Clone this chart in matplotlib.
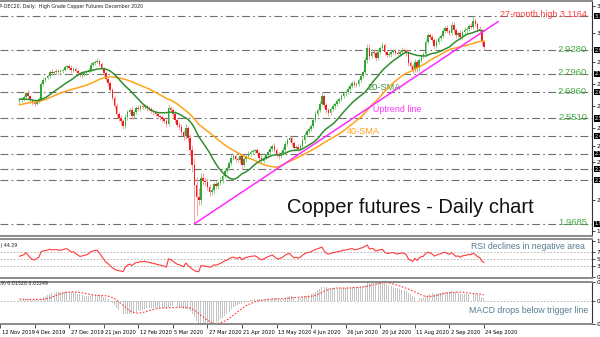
import numpy as np
import pandas as pd
import matplotlib
matplotlib.use("Agg")
import matplotlib.pyplot as plt
from matplotlib import transforms

# daily closes before the first visible bar (only warm up the indicators)
pre_close = [2.560, 2.575, 2.590, 2.570, 2.555, 2.580, 2.600, 2.590, 2.575, 2.585,
             2.600, 2.590, 2.605, 2.620, 2.610, 2.595, 2.580, 2.600, 2.615, 2.630,
             2.640, 2.660, 2.675, 2.690, 2.700, 2.685, 2.670, 2.680, 2.665, 2.650,
             2.640, 2.655, 2.660, 2.645, 2.630, 2.620, 2.635, 2.640, 2.650, 2.645]

# visible daily closes, mid Nov 2019 -> 24 Sep 2020
close = [2.652, 2.658, 2.669, 2.691, 2.674, 2.652, 2.636, 2.630, 2.647, 2.658,
         2.741, 2.763, 2.774, 2.785, 2.807, 2.801, 2.807, 2.813, 2.807, 2.813,
         2.818, 2.835, 2.840, 2.829, 2.818, 2.824, 2.813, 2.801, 2.790, 2.796,
         2.801, 2.807, 2.818, 2.846, 2.857, 2.862, 2.868, 2.851, 2.829, 2.801,
         2.768, 2.746, 2.708, 2.663, 2.619, 2.575, 2.553, 2.536, 2.509, 2.558,
         2.586, 2.597, 2.564, 2.586, 2.608, 2.603, 2.619, 2.614, 2.619, 2.608,
         2.603, 2.592, 2.586, 2.575, 2.564, 2.558, 2.547, 2.536, 2.520, 2.608,
         2.597, 2.575, 2.542, 2.514, 2.503, 2.476, 2.453, 2.498, 2.442, 2.376,
         2.293, 2.183, 2.116, 2.100, 2.221, 2.205, 2.199, 2.172, 2.144, 2.155,
         2.188, 2.177, 2.194, 2.210, 2.232, 2.260, 2.277, 2.304, 2.332, 2.343,
         2.326, 2.321, 2.343, 2.293, 2.326, 2.343, 2.354, 2.365, 2.371, 2.376,
         2.360, 2.332, 2.315, 2.332, 2.348, 2.365, 2.382, 2.398, 2.376, 2.354,
         2.343, 2.360, 2.376, 2.409, 2.431, 2.442, 2.415, 2.387, 2.393, 2.382,
         2.398, 2.431, 2.459, 2.481, 2.492, 2.509, 2.542, 2.575, 2.597, 2.630,
         2.674, 2.625, 2.597, 2.581, 2.603, 2.619, 2.630, 2.647, 2.658, 2.674,
         2.691, 2.697, 2.713, 2.730, 2.746, 2.735, 2.741, 2.763, 2.785, 2.807,
         2.873, 2.940, 2.895, 2.918, 2.912, 2.884, 2.918, 2.940, 2.956, 2.918,
         2.901, 2.906, 2.918, 2.923, 2.912, 2.906, 2.918, 2.929, 2.923, 2.912,
         2.857, 2.840, 2.818, 2.862, 2.829, 2.873, 2.895, 2.906, 2.973, 3.011,
         3.000, 2.984, 2.951, 2.973, 2.995, 3.006, 3.034, 3.050, 3.034, 3.022,
         3.067, 3.039, 3.011, 3.022, 3.000, 3.028, 3.039, 3.045, 3.061, 3.056,
         3.089, 3.072, 3.045, 3.034, 2.973, 2.945]

# shadow lengths above / below the candle body
wick_up = [.008, .010, .012, .006, .014, .008, .006, .010, .008, .012,
           .010, .014, .008, .012, .010, .016, .008, .010, .012, .008,
           .010, .012, .008, .010, .014, .008, .012, .010, .006, .010,
           .008, .010, .012, .014, .010, .012, .016, .010, .012, .008,
           .010, .012, .014, .010, .012, .016, .010, .014, .012, .018,
           .012, .010, .016, .012, .010, .014, .008, .012, .010, .008,
           .010, .012, .008, .010, .012, .008, .010, .012, .014, .016,
           .012, .010, .014, .012, .016, .014, .012, .020, .018, .022,
           .030, .040, .045, .050, .030, .028, .020, .022, .016, .018,
           .014, .018, .012, .016, .012, .014, .010, .012, .014, .012,
           .016, .010, .014, .012, .010, .012, .014, .010, .012, .008,
           .010, .012, .014, .010, .012, .010, .014, .012, .016, .010,
           .012, .010, .014, .016, .012, .018, .010, .012, .010, .014,
           .010, .012, .014, .010, .012, .010, .012, .014, .010, .016,
           .022, .014, .012, .010, .012, .014, .010, .012, .010, .014,
           .012, .010, .014, .012, .010, .016, .012, .010, .014, .012,
           .016, .024, .020, .014, .016, .012, .014, .010, .016, .012,
           .010, .012, .014, .010, .012, .016, .010, .014, .012, .010,
           .014, .012, .010, .016, .012, .014, .010, .012, .018, .014,
           .012, .016, .010, .014, .012, .010, .014, .012, .016, .010,
           .018, .014, .012, .010, .016, .012, .014, .010, .012, .014,
           .027, .016, .012, .014, .010, .008]
wick_dn = [.010, .008, .012, .008, .010, .014, .010, .012, .008, .010,
           .008, .010, .012, .008, .010, .012, .008, .010, .014, .010,
           .012, .008, .010, .012, .014, .010, .008, .012, .010, .014,
           .010, .012, .008, .010, .012, .010, .008, .010, .012, .014,
           .012, .014, .016, .012, .018, .014, .016, .020, .018, .012,
           .014, .012, .016, .012, .010, .014, .012, .010, .012, .014,
           .010, .012, .014, .010, .012, .014, .016, .012, .017, .014,
           .012, .014, .016, .012, .018, .016, .020, .018, .024, .028,
           .040, .2145, .099, .028, .030, .020, .024, .018, .022, .016,
           .018, .014, .016, .012, .014, .010, .012, .014, .010, .012,
           .014, .012, .016, .020, .012, .014, .010, .012, .010, .014,
           .012, .014, .016, .012, .010, .014, .012, .010, .012, .014,
           .016, .012, .010, .014, .012, .010, .016, .014, .012, .010,
           .012, .010, .014, .012, .010, .012, .014, .010, .012, .010,
           .012, .016, .014, .018, .012, .010, .014, .012, .010, .012,
           .010, .014, .012, .010, .014, .012, .010, .014, .012, .010,
           .012, .014, .020, .012, .016, .018, .012, .010, .014, .016,
           .012, .010, .014, .012, .010, .014, .012, .010, .012, .014,
           .016, .014, .018, .012, .020, .014, .012, .010, .014, .012,
           .010, .014, .016, .012, .010, .014, .012, .010, .014, .012,
           .010, .014, .016, .012, .014, .010, .012, .014, .010, .012,
           .014, .012, .016, .012, .018, .016]

levels = [3.1164, 2.9280, 2.7960, 2.6960, 2.5510, 2.4530, 2.3540, 2.2710, 2.2100, 1.9685]
labelled_levels = [2.9280, 2.7960, 2.6960, 2.5510, 1.9685]
high_level = 3.1164

date_bars = [-9, 7, 23, 39, 55, 71, 87, 103, 119, 135, 151, 167, 183, 199, 215]
date_labels = ["12 Nov 2019", "4 Dec 2019", "27 Dec 2019", "21 Jan 2020", "12 Feb 2020",
               "5 Mar 2020", "27 Mar 2020", "21 Apr 2020", "13 May 2020", "4 Jun 2020",
               "26 Jun 2020", "20 Jul 2020", "11 Aug 2020", "2 Sep 2020", "24 Sep 2020"]

trend_x = [81, 221.5]
trend_y = [1.9685, 3.085]

# ---- indicators -------------------------------------------------------
npre = len(pre_close)
s = pd.Series(pre_close + close)
sma20 = s.rolling(20).mean().to_numpy()[npre:]
sma40 = s.rolling(40).mean().to_numpy()[npre:]
d = s.diff()
gain = d.clip(lower=0).ewm(alpha=1 / 14, adjust=False).mean()
loss = (-d.clip(upper=0)).ewm(alpha=1 / 14, adjust=False).mean()
rsi = (100 - 100 / (1 + gain / loss)).to_numpy()[npre:]
macd_s = s.ewm(span=12, adjust=False).mean() - s.ewm(span=26, adjust=False).mean()
signal = macd_s.rolling(9).mean().to_numpy()[npre:]
macd = macd_s.to_numpy()[npre:]

c = np.array(close)
o = np.array([pre_close[-1]] + close[:-1])
hi = np.maximum(o, c) + np.array(wick_up)
lo = np.minimum(o, c) - np.array(wick_dn)
x = np.arange(len(c))
bull = c >= o

# ---- figure -----------------------------------------------------------
W, H = 600, 337
fig = plt.figure(figsize=(W / 100, H / 100), dpi=100)
fig.patch.set_facecolor("white")
ax_w = 592 / W
ax = fig.add_axes([0, 1 - 236 / H, ax_w, 235 / H])
ax_r = fig.add_axes([0, 1 - 278 / H, ax_w, 39 / H], sharex=ax)
ax_m = fig.add_axes([0, 1 - 324 / H, ax_w, 42 / H], sharex=ax)

for a in (ax, ax_r, ax_m):
    a.set_facecolor("white")
    a.spines["left"].set_visible(False)
    for sp in ("top", "bottom"):
        a.spines[sp].set_color("#8a8a8a")
        a.spines[sp].set_linewidth(1.4)
    a.spines["right"].set_color("#333333")
    a.spines["right"].set_linewidth(0.8)
    a.yaxis.tick_right()
    a.tick_params(axis="y", labelsize=4.2, length=2, width=0.5, pad=1)
    a.tick_params(axis="x", length=0, labelbottom=False)

ax.set_xlim(-0.6, 265)
ax.set_ylim(3.2048 - 236 / 181, 3.2048 - 1 / 181)

# level lines
for lv in levels:
    ax.axhline(lv, color="#6e6e6e", lw=0.8, ls=(0, (7, 3, 1.5, 3)), zorder=1)

# candles
wick_col = np.where(bull, "#8fd08f", "#ff9c9c")
body_col = np.where(bull, "#35a535", "#f01e1e")
ax.vlines(x, lo, hi, colors=wick_col, lw=0.7, zorder=2)
ax.bar(x, np.abs(c - o), bottom=np.minimum(o, c), width=0.75,
       color=body_col, linewidth=0, zorder=3)

ax.plot(x, sma40, color="#ffa31a", lw=1.1, zorder=4)
ax.plot(x, sma20, color="#2f8f2f", lw=1.1, zorder=5)
ax.plot(trend_x, trend_y, color="#ff2bff", lw=1.1, zorder=6)

# right scale: ticks sit between the level boxes
ax.set_yticks([3.17, 3.02, 2.86, 2.74, 2.62, 2.50, 2.40, 2.31, 2.10, 1.93])
ax.set_yticklabels([f"{t:.4f}" for t in ax.get_yticks()])

# price boxes on the right scale
tr = transforms.blended_transform_factory(ax.transAxes, ax.transData)
for lv in levels:
    ax.text(1.004, lv, f"{lv:.4f}", transform=tr, fontsize=3.6, color="white",
            va="center", ha="left", clip_on=False,
            bbox=dict(boxstyle="square,pad=0.15", fc="black", ec="none"))

# annotations
sans = ["Liberation Sans", "DejaVu Sans"]
for lv in labelled_levels:
    ax.text(0.9916, lv - 0.008, f"{lv:.4f}", transform=tr, ha="right", va="baseline",
            fontsize=6.8, color="#45ad45", family=sans)
ax.text(0.9916, high_level - 0.008, f"27-month high {high_level:.4f}", transform=tr,
        ha="right", va="baseline", fontsize=6.4, color="#ff3b3b", family=sans)
ax.text(0.6216, 0.6197, "20-SMA", transform=ax.transAxes, ha="left", va="baseline",
        fontsize=6.7, color="#3c8f3c", family=sans)
ax.text(0.630, 0.5256, "Uptrend line", transform=ax.transAxes, ha="left", va="baseline",
        fontsize=6.4, color="#ff33ff", family=sans)
ax.text(0.5861, 0.4359, "40-SMA", transform=ax.transAxes, ha="left", va="baseline",
        fontsize=6.6, color="#ffa31a", family=sans)
ax.text(287 / 592, (236 - 213) / 235, "Copper futures - Daily chart",
        transform=ax.transAxes, ha="left", va="baseline", fontsize=14.5,
        color="#111111", family=sans)

fig.text(143 / W, 1 - 8 / H, "HGP-DEC20, Daily:  High Grade Copper Futures December 2020",
         ha="right", va="baseline", fontsize=3.4, color="#222222")

# ---- RSI --------------------------------------------------------------
ax_r.set_ylim(-2.7, 105.4)
for lv in (70, 50, 30):
    ax_r.axhline(lv, color="#b0b0b0", lw=0.6, ls=(0, (2, 2)))
ax_r.plot(x, rsi, color="#ff3a3a", lw=0.8)
ax_r.set_yticks([100, 70, 50, 30, 0])
ax_r.set_yticklabels(["100", "70", "50", "30", "0.00"])
ax_r.text(0.988, (278 - 249) / 39, "RSI declines in negative area", transform=ax_r.transAxes,
          ha="right", va="baseline", fontsize=6.3, color="#577d92", family=sans)
fig.text(17 / W, 1 - 247 / H, "RSI(14) 44.29", ha="right", va="baseline",
         fontsize=3.4, color="#222222")

# ---- MACD -------------------------------------------------------------
top = np.nanmax(np.r_[macd, signal])
bot = np.nanmin(np.r_[macd, signal])
ax_m.set_ylim(bot, top)
ax_m.bar(x, macd, width=0.45, color="#c4c4c4", linewidth=0)
ax_m.axhline(0, color="#b0b0b0", lw=0.6, ls=(0, (2, 2)))
ax_m.plot(x, signal, color="#ff3a3a", lw=0.8, ls=(0, (1.5, 1.5)))
ax_m.set_yticks([top, 0, bot])
ax_m.set_yticklabels([f"{top:.4f}", "0.00", f"{bot:.4f}"])
ax_m.text(0.993, (324 - 313) / 42, "MACD drops below trigger line", transform=ax_m.transAxes,
          ha="right", va="baseline", fontsize=6.3, color="#577d92", family=sans)
fig.text(48 / W, 1 - 285 / H, "MACD(12,26,9) 0.01528 0.03249", ha="right", va="baseline",
         fontsize=3.4, color="#222222")

ax_m.set_xticks(date_bars)
ax_m.set_xticklabels(date_labels, ha="left")
ax_m.tick_params(axis="x", labelbottom=True, length=3, width=0.6, pad=1.5,
                 labelsize=3.7, color="#333333")
shift = transforms.ScaledTranslation(1.5 / 100, 0, fig.dpi_scale_trans)
for lab in ax_m.get_xticklabels():
    lab.set_transform(lab.get_transform() + shift)

fig.savefig("out.png", dpi=100, facecolor="white")
